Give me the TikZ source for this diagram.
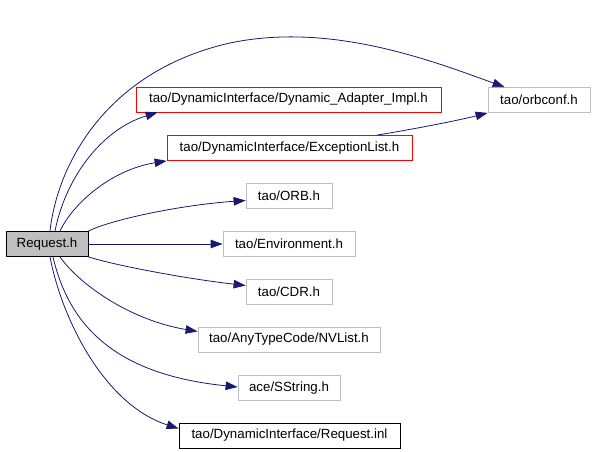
\documentclass[tikz,border=0pt]{standalone}
\usepackage{fontspec}
\setmainfont{Liberation Sans}
\usetikzlibrary{arrows.meta}
\definecolor{edgeblue}{HTML}{191970}
\definecolor{boxgray}{HTML}{BFBFBF}
\tikzset{
  filebox/.style={draw=boxgray, line width=0.8pt, minimum height=25pt, inner sep=0pt, font=\fontsize{13.3}{15}\selectfont, text=black},
  redbox/.style={filebox, draw=red},
  blackbox/.style={filebox, draw=black},
  rootbox/.style={filebox, draw=black, fill=boxgray},
  dep/.style={draw=edgeblue, line width=0.8pt, -{Triangle[length=12pt,width=8.5pt]}, color=edgeblue}
}
\begin{document}
\begin{tikzpicture}[x=1pt,y=-1pt]
\useasboundingbox (0,0) rectangle (595,452);
\node[rootbox, minimum width=82pt] (req) at (47,244) {Request.h};
\node[redbox, minimum width=305pt] (dai) at (288.5,99.5) {tao/DynamicInterface/Dynamic\_Adapter\_Impl.h};
\node[redbox, minimum width=245pt] (exc) at (289.5,148) {tao/DynamicInterface/ExceptionList.h};
\node[filebox, minimum width=102pt] (conf) at (539,100) {tao/orbconf.h};
\node[filebox, minimum width=86pt] (orb) at (289,195.5) {tao/ORB.h};
\node[filebox, minimum width=132pt] (env) at (289,244) {tao/Environment.h};
\node[filebox, minimum width=86pt] (cdr) at (289,291.5) {tao/CDR.h};
\node[filebox, minimum width=182pt] (nvl) at (289,339.5) {tao/AnyTypeCode/NVList.h};
\node[filebox, minimum width=102pt] (sstr) at (289,388) {ace/SString.h};
\node[blackbox, minimum width=221pt] (inl) at (289.5,435.5) {tao/DynamicInterface/Request.inl};

\coordinate (top) at (230,43);
\draw[dep] ([xshift=3pt]req.north) .. controls (58,160) and (110,70) .. (top)
  .. controls (330,22) and (430,60) .. ([xshift=17pt]conf.north west);
\draw[dep] ([xshift=8pt]req.north) .. controls (65,180) and (100,130) .. ([xshift=22pt]dai.south west);
\draw[dep] ([xshift=13pt]req.north) .. controls (72,205) and (110,170) .. (exc.south west);
\draw[dep] ([xshift=87.5pt]exc.north) .. controls (420,128) and (460,120) .. (conf.south west);
\draw[dep] (req.north east) .. controls (110,220) and (180,205) .. ([yshift=-5pt]orb.west);
\draw[dep] (req.east) -- (env.west);
\draw[dep] (req.south east) .. controls (110,264) and (180,278) .. ([yshift=6pt]cdr.west);
\draw[dep] ([xshift=13pt]req.south) .. controls (80,285) and (130,320) .. ([yshift=8pt]nvl.west);
\draw[dep] ([xshift=6pt]req.south) .. controls (70,330) and (120,375) .. ([yshift=1pt]sstr.west);
\draw[dep] ([xshift=3pt]req.south) .. controls (62,320) and (105,405) .. ([yshift=7pt]inl.west);
\end{tikzpicture}
\end{document}
